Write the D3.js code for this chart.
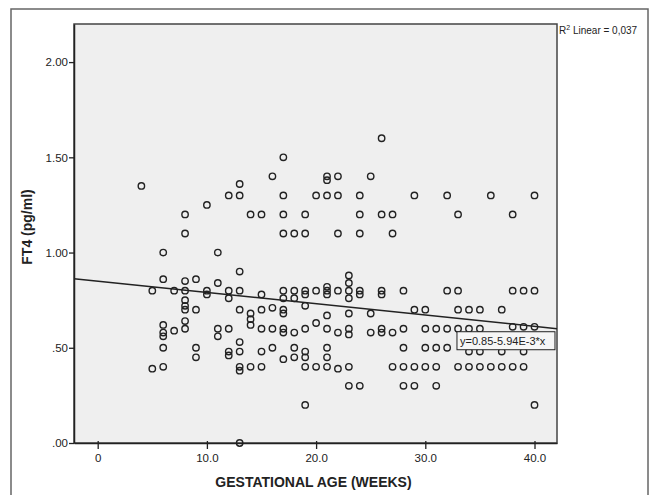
<!DOCTYPE html>
<html>
<head>
<meta charset="utf-8">
<script src="https://cdn.jsdelivr.net/npm/d3@7/dist/d3.min.js"></script>
<style>
  html, body { margin: 0; padding: 0; background: #fff; }
  svg { display: block; font-family: Arial, "Liberation Sans", sans-serif; }
</style>
</head>
<body>
<svg id="chart" width="659" height="495"></svg>
<script>
// ---- data ----
const weeks = [
  4,13,12,13,10,8,8,6,11,13,6,8,9,11,
  26,17,16,21,21,22,25,17,20,21,22,24,14,15,17,19,24,26,27,17,18,19,22,24,27,23,23,
  29,32,33,36,38,40,
  5,7,8,8,8,8,9,10,10,12,12,13,13,8,8,6,6,6,7,6,5,6,9,9,11,11,12,12,12,13,13,13,13,13,
  17,18,19,20,21,22,23,24,26,
  17,18,19,21,21,23,24,26,15,
  14,14,14,15,16,17,17,19,21,23,25,20,
  15,16,17,17,18,19,21,22,23,23,25,26,26,27,
  15,16,18,18,19,19,21,21,17,
  14,15,19,20,21,22,23,27,
  23,24,19,
  28,32,33,38,39,40,
  29,30,33,34,35,37,
  28,30,31,32,33,34,35,38,39,40,
  28,30,31,32,34,35,37,39,
  28,29,30,31,33,34,35,36,37,38,39,
  28,29,31,
  40
];
const ft4 = [
  1.35,1.36,1.30,1.30,1.25,1.20,1.10,1.00,1.00,0.90,0.86,0.85,0.86,0.84,
  1.60,1.50,1.40,1.40,1.38,1.40,1.40,1.30,1.30,1.30,1.30,1.30,1.20,1.20,1.20,1.20,1.20,1.20,1.20,1.10,1.10,1.10,1.10,1.10,1.10,0.88,0.84,
  1.30,1.30,1.20,1.30,1.20,1.30,
  0.80,0.80,0.80,0.75,0.72,0.70,0.70,0.80,0.78,0.80,0.76,0.80,0.70,0.64,0.60,0.62,0.58,0.56,0.59,0.50,0.39,0.40,0.50,0.45,0.60,0.56,0.60,0.48,0.46,0.53,0.48,0.40,0.38,0.00,
  0.80,0.80,0.80,0.80,0.80,0.80,0.80,0.80,0.80,
  0.76,0.76,0.78,0.82,0.78,0.76,0.78,0.78,0.78,
  0.68,0.65,0.62,0.70,0.71,0.70,0.68,0.72,0.67,0.68,0.68,0.63,
  0.60,0.60,0.60,0.58,0.58,0.60,0.60,0.58,0.60,0.57,0.58,0.60,0.58,0.58,
  0.48,0.50,0.50,0.45,0.48,0.45,0.50,0.45,0.44,
  0.40,0.40,0.40,0.40,0.40,0.39,0.40,0.40,
  0.30,0.30,0.20,
  0.80,0.80,0.80,0.80,0.80,0.80,
  0.70,0.70,0.70,0.70,0.70,0.70,
  0.60,0.60,0.60,0.60,0.60,0.60,0.60,0.61,0.61,0.61,
  0.50,0.50,0.50,0.50,0.48,0.48,0.48,0.48,
  0.40,0.40,0.40,0.40,0.40,0.40,0.40,0.40,0.40,0.40,0.40,
  0.30,0.30,0.30,
  0.20
];
const xTickValues = [0, 10, 20, 30, 40];
const xTickLabels = ["0", "10.0", "20.0", "30.0", "40.0"];
const yTickValues = [0, 0.5, 1.0, 1.5, 2.0];
const yTickLabels = [".00", ".50", "1.00", "1.50", "2.00"];
const fitIntercept = 0.85;
const fitSlope = -5.94e-3;
const fitLabel = "y=0.85-5.94E-3*x";
const r2Value = "0,037";
const xTitle = "GESTATIONAL AGE (WEEKS)";
const yTitle = "FT4 (pg/ml)";

// ---- layout ----
const svg = d3.select("#chart");
const L = 74, R = 557, T = 24, B = 443;
const x = d3.scaleLinear().domain([-2.17, 42.06]).range([L, R]);
const y = d3.scaleLinear().domain([0, 2.2]).range([B, T]);

// outer frame
svg.append("rect").attr("x", 11).attr("y", 9).attr("width", 637).attr("height", 500)
  .attr("fill", "none").attr("stroke", "#666").attr("stroke-width", 1.5);

// plot area
svg.append("rect").attr("x", L).attr("y", T).attr("width", R - L).attr("height", B - T)
  .attr("fill", "#efefef").attr("stroke", "#444").attr("stroke-width", 1.5);

// axes
const xAxis = d3.axisBottom(x).tickValues(xTickValues)
  .tickFormat((d, i) => xTickLabels[i]).tickSize(6).tickSizeOuter(0);
const gx = svg.append("g").attr("transform", `translate(0,${B})`).call(xAxis);
gx.select(".domain").attr("stroke", "#222").attr("stroke-width", 1.5);
gx.selectAll(".tick line").attr("stroke", "#222").attr("y1", -2).attr("stroke-width", 1.3);
gx.selectAll(".tick text").attr("font-size", 11.5).attr("fill", "#222")
  .attr("font-family", "Arial, 'Liberation Sans', sans-serif").attr("dy", "0.85em");

const yAxis = d3.axisLeft(y).tickValues(yTickValues)
  .tickFormat((d, i) => yTickLabels[i]).tickSize(5).tickSizeOuter(0);
const gy = svg.append("g").attr("transform", `translate(${L},0)`).call(yAxis);
gy.select(".domain").attr("stroke", "#222").attr("stroke-width", 1.5);
gy.selectAll(".tick line").attr("stroke", "#222").attr("stroke-width", 1.3);
gy.selectAll(".tick text").attr("font-size", 11.5).attr("fill", "#222")
  .attr("font-family", "Arial, 'Liberation Sans', sans-serif").attr("x", -6);

// regression line
const xd = x.domain();
svg.append("line")
  .attr("x1", x(xd[0])).attr("y1", y(fitIntercept + fitSlope * xd[0]))
  .attr("x2", x(xd[1])).attr("y2", y(fitIntercept + fitSlope * xd[1]))
  .attr("stroke", "#222").attr("stroke-width", 1.5);

// points
svg.append("g").selectAll("circle").data(weeks.map((w, i) => [w, ft4[i]]))
  .join("circle")
  .attr("cx", d => x(d[0])).attr("cy", d => y(d[1])).attr("r", 3.2)
  .attr("fill", "none").attr("stroke", "#222").attr("stroke-width", 1.4);

// equation label
const eq = svg.append("g").attr("transform", `translate(${x(32.9)},${y(0.6) + 3})`);
eq.append("rect").attr("width", 98).attr("height", 18)
  .attr("fill", "#f6f6f6").attr("stroke", "#222").attr("stroke-width", 1);
eq.append("text").attr("x", 3).attr("y", 13).attr("font-size", 11).attr("fill", "#222")
  .text(fitLabel);

// R2 label
const r2 = svg.append("text").attr("x", 559).attr("y", 34).attr("font-size", 10).attr("fill", "#222");
r2.append("tspan").text("R");
r2.append("tspan").attr("dy", -4).attr("font-size", 7).text("2");
r2.append("tspan").attr("dy", 4).text(" Linear = " + r2Value);

// axis titles
svg.append("text").attr("x", (L + R) / 2 - 2).attr("y", 487).attr("text-anchor", "middle")
  .attr("font-size", 14).attr("font-weight", "bold").attr("fill", "#222").text(xTitle);
svg.append("text").attr("transform", "translate(32,227) rotate(-90)").attr("text-anchor", "middle")
  .attr("font-size", 14).attr("font-weight", "bold").attr("fill", "#222").text(yTitle);
</script>
</body>
</html>
